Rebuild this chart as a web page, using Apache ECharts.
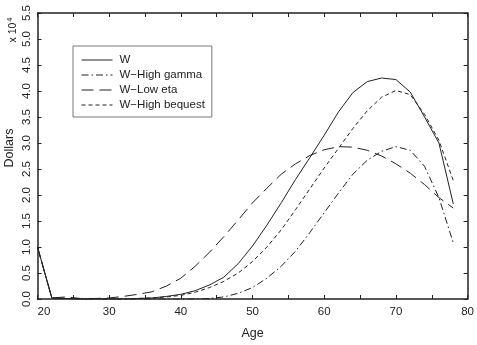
<!DOCTYPE html>
<html>
<head>
<meta charset="utf-8">
<script src="https://cdn.jsdelivr.net/npm/echarts@6/dist/echarts.min.js"></script>
<style>
  html, body { margin: 0; padding: 0; background: #fff; }
  #main { width: 477px; height: 345px; }
</style>
</head>
<body>
<div id="main"></div>
<script>
// ages, every 2 years
var ages = [20, 22, 24, 26, 28, 30, 32, 34, 36, 38, 40, 42, 44, 46, 48,
            50, 52, 54, 56, 58, 60, 62, 64, 66, 68, 70, 72, 74, 76, 78];

// wealth, in units of 10^4 dollars
var wBase = [1.0, 0.02, 0.01, 0.0, 0.0, 0.0, 0.0, 0.01, 0.02, 0.05, 0.09, 0.16, 0.27, 0.42, 0.68,
             1.02, 1.42, 1.85, 2.3, 2.72, 3.15, 3.6, 3.97, 4.18, 4.25, 4.22, 3.98, 3.5, 3.0, 1.83];
var wHighGamma = [1.0, 0.02, 0.01, 0.0, 0.0, 0.0, 0.0, 0.0, 0.0, 0.0, 0.0, 0.0, 0.01, 0.04, 0.11,
                  0.22, 0.4, 0.63, 0.92, 1.28, 1.66, 2.04, 2.4, 2.67, 2.84, 2.93, 2.86, 2.55, 1.95, 1.08];
var wLowEta = [1.0, 0.02, 0.04, 0.01, 0.01, 0.02, 0.05, 0.09, 0.14, 0.25, 0.4, 0.63, 0.9, 1.2, 1.52,
               1.85, 2.13, 2.4, 2.6, 2.76, 2.87, 2.93, 2.92, 2.86, 2.75, 2.6, 2.42, 2.2, 1.95, 1.75];
var wHighBequest = [1.0, 0.02, 0.01, 0.0, 0.0, 0.0, 0.0, 0.01, 0.02, 0.04, 0.07, 0.13, 0.22, 0.34, 0.5,
                    0.72, 1.0, 1.33, 1.72, 2.12, 2.52, 2.9, 3.28, 3.62, 3.88, 4.01, 3.93, 3.55, 3.05, 2.28];

var seriesNames = ['W', 'W\u2212High gamma', 'W\u2212Low eta', 'W\u2212High bequest'];
var seriesData = [wBase, wHighGamma, wLowEta, wHighBequest];
var dashes = ['solid', [7, 3, 1.5, 3], [12, 6], [4, 3]];

var ink = '#222';
var font = 'Liberation Sans';

function pairs(ys) {
  return ages.map(function (a, i) { return [a, ys[i]]; });
}

var myChart = echarts.init(document.getElementById('main'));

// frame: same axis drawn on all four sides, ticks pointing in
var boxAxisX = {
  type: 'value', min: 20, max: 80, interval: 5,
  axisLine: { show: true, onZero: false, lineStyle: { color: ink, width: 1.5 } },
  axisTick: { show: true, inside: true, length: 4, lineStyle: { color: ink } },
  splitLine: { show: false }
};
var boxAxisY = {
  type: 'value', min: 0, max: 5.5, interval: 0.5,
  axisLine: { show: true, onZero: false, lineStyle: { color: ink, width: 1.5 } },
  axisTick: { show: true, inside: true, length: 4, lineStyle: { color: ink } },
  splitLine: { show: false }
};

var series = seriesNames.map(function (name, i) {
  return {
    name: name,
    type: 'line',
    data: pairs(seriesData[i]),
    symbol: 'none',
    silent: true,
    lineStyle: { color: ink, width: 1, type: dashes[i] },
    itemStyle: { color: ink }
  };
});

var options = {
  animation: false,
  backgroundColor: '#fff',
  textStyle: { fontFamily: font },
  grid: { left: 37.5, right: 5, top: 13, bottom: 42 },
  xAxis: [
    Object.assign({}, boxAxisX, {
      position: 'bottom',
      name: 'Age', nameLocation: 'middle', nameGap: 28,
      nameTextStyle: { color: ink, fontSize: 12.5, fontFamily: font },
      axisLabel: {
        color: ink, fontSize: 11.5, margin: 7, fontFamily: font,
        alignMinLabel: 'left',
        formatter: function (v) { return v % 10 === 0 ? String(v) : ''; }
      }
    }),
    Object.assign({}, boxAxisX, { position: 'top', axisLabel: { show: false } })
  ],
  yAxis: [
    Object.assign({}, boxAxisY, {
      position: 'left',
      axisLabel: {
        color: ink, fontSize: 11.5, margin: 5, rotate: 90, fontFamily: font,
        formatter: function (v) { return v.toFixed(1); }
      }
    }),
    Object.assign({}, boxAxisY, { position: 'right', axisLabel: { show: false } })
  ],
  legend: {
    orient: 'vertical',
    left: 73, top: 46,
    data: seriesNames,
    backgroundColor: '#fff',
    borderColor: '#777', borderWidth: 1,
    padding: [8, 7, 6, 8],
    itemGap: 3,
    itemWidth: 31, itemHeight: 11,
    itemStyle: { opacity: 0 },
    lineStyle: { width: 1 },
    textStyle: { color: ink, fontSize: 11.5, fontFamily: font, padding: [0, 0, 0, 2] }
  },
  graphic: [
    {
      type: 'text', x: 10, y: 148, rotation: Math.PI / 2,
      style: { text: 'Dollars', fill: ink, fontSize: 12.5, fontFamily: font, align: 'center', verticalAlign: 'middle' }
    },
    {
      type: 'text', x: 13, y: 30, rotation: Math.PI / 2,
      style: {
        text: 'x 10{sup|4}', fill: ink, fontSize: 10.5, fontFamily: font,
        align: 'center', verticalAlign: 'middle',
        rich: { sup: { fontSize: 7.5, fill: ink, padding: [0, 0, 7, 1] } }
      }
    }
  ],
  series: series
};

myChart.setOption(options, true);
</script>
</body>
</html>
